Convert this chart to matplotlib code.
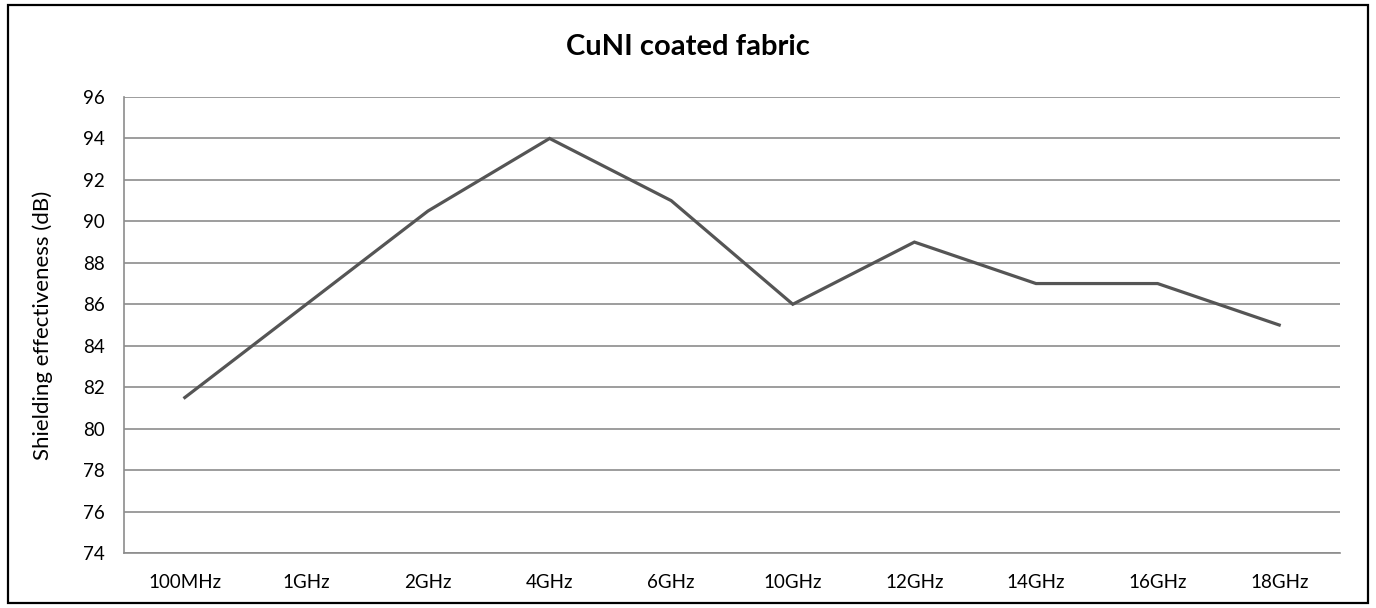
import matplotlib
matplotlib.use('Agg')
import matplotlib.pyplot as plt
import matplotlib.patches as patches

# Data
freqs = ['100MHz', '1GHz', '2GHz', '4GHz', '6GHz', '10GHz', '12GHz', '14GHz', '16GHz', '18GHz']
shielding_db = [81.5, 86, 90.5, 94, 91, 86, 89, 87, 87, 85]
yticks = list(range(74, 97, 2))

plt.rcParams['font.family'] = ['Lato', 'DejaVu Sans']

W, H = 1376, 608
fig = plt.figure(figsize=(W / 100, H / 100), dpi=100)
# plot area placed in pixel coords of the reference
ax = fig.add_axes([124 / W, 1 - 553 / H, (1340 - 124) / W, (553 - 97) / H])

x = list(range(len(freqs)))
ax.plot(x, shielding_db, color='#555555', linewidth=2.3, solid_joinstyle='miter')

ax.set_xlim(-0.5, len(freqs) - 0.5)
ax.set_ylim(74, 96)
ax.set_yticks(yticks)
ax.set_xticks(x)
ax.set_xticklabels(freqs)
ax.tick_params(length=0, labelsize=13.5, pad=15)
ax.tick_params(axis='y', pad=14)
ax.grid(axis='y', color='#8c8c8c', linewidth=1.2)
ax.set_axisbelow(True)
for side in ['top', 'right']:
    ax.spines[side].set_visible(False)
for side in ['left', 'bottom']:
    ax.spines[side].set_color('#8c8c8c')
    ax.spines[side].set_linewidth(1.2)

fig.text(43 / W, 1 - 325 / H, 'Shielding effectiveness (dB)', rotation=90,
         ha='center', va='center', fontsize=16)
fig.text(0.5, 1 - 47 / H, 'CuNI coated fabric', ha='center', va='center',
         fontsize=21, fontweight='bold')

# outer chart border
border = patches.Rectangle((8 / W, 5 / H), 1360 / W, 598 / H,
                           transform=fig.transFigure, fill=False,
                           edgecolor='black', linewidth=1.6)
fig.patches.append(border)

fig.savefig('out.png', dpi=100)
